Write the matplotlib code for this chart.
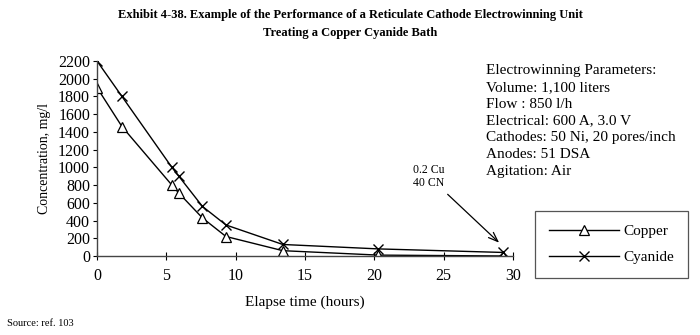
import matplotlib
matplotlib.use('Agg')
import matplotlib.pyplot as plt

#################################
# Data
#################################
hours = [0, 1.8, 5.4, 5.9, 7.6, 9.3, 13.4, 20.3, 29.3]
copper = [1900, 1460, 800, 710, 430, 220, 60, 10, 0.2]
cyanide = [2200, 1800, 1000, 900, 560, 350, 130, 80, 40]

x_ticks = [0, 5, 10, 15, 20, 25, 30]
y_ticks = list(range(0, 2201, 200))

params = ['Electrowinning Parameters:',
          'Volume: 1,100 liters',
          'Flow : 850 l/h',
          'Electrical: 600 A, 3.0 V',
          'Cathodes: 50 Ni, 20 pores/inch',
          'Anodes: 51 DSA',
          'Agitation: Air']

#################################
# Plotting
#################################
plt.rcParams['font.family'] = ['Liberation Serif', 'DejaVu Serif']

fig = plt.figure(figsize=(7, 3.35), dpi=100)
ax = fig.add_axes([97 / 700, 1 - 256 / 335, 416 / 700, 195 / 335])

ax.plot(hours, copper, color='black', lw=1, marker='^', ms=7,
        mfc='white', mec='black', mew=0.9, label='Copper')
ax.plot(hours, cyanide, color='black', lw=1, marker='x', ms=7,
        mew=1, label='Cyanide')

ax.set_xlim(0, 30)
ax.set_ylim(0, 2200)
ax.set_xticks(x_ticks)
ax.set_yticks(y_ticks)
ax.tick_params(axis='x', direction='inout', length=6, width=0.8,
               labelsize=11.5, pad=6)
ax.tick_params(axis='y', direction='out', length=3, width=0.8,
               labelsize=11.5, pad=2)
for side in ['top', 'right']:
    ax.spines[side].set_visible(False)
for side in ['left', 'bottom']:
    ax.spines[side].set_linewidth(1)
    ax.spines[side].set_color('#444444')

ax.set_xlabel('Elapse time (hours)', fontsize=11, labelpad=8)
ax.set_ylabel('Concentration, mg/l', fontsize=10, labelpad=5)

# final reading callout
ax.annotate('0.2 Cu\n40 CN', xy=(29.0, 150), xytext=(23.9, 900),
            fontsize=8.5, ha='center', va='center', linespacing=1.1,
            arrowprops=dict(arrowstyle='->,head_length=0.8,head_width=0.3',
                            color='black', lw=0.9, shrinkA=3, shrinkB=0))

fig.text(0.5, 1 - 15 / 335, 'Exhibit 4-38. Example of the Performance of a '
         'Reticulate Cathode Electrowinning Unit', ha='center', va='center',
         fontsize=9.0, fontweight='bold')
fig.text(0.5, 1 - 33 / 335, 'Treating a Copper Cyanide Bath',
         ha='center', va='center', fontsize=9.0, fontweight='bold')

fig.text(486 / 700, 1 - 64 / 335, '\n'.join(params), ha='left', va='top',
         fontsize=11, linespacing=1.38)

fig.text(7 / 700, 1 - 323 / 335, 'Source: ref. 103', ha='left',
         va='center', fontsize=7.5)

leg = ax.legend(loc='upper left', bbox_to_anchor=(535 / 700, 1 - 211 / 335),
                bbox_transform=fig.transFigure, fontsize=11,
                handlelength=4.6, handletextpad=0.3, borderpad=0.9,
                labelspacing=0.8, borderaxespad=0, fancybox=False,
                edgecolor='#555555', framealpha=1)
leg.get_frame().set_linewidth(0.9)

fig.savefig('out.png', dpi=100)
